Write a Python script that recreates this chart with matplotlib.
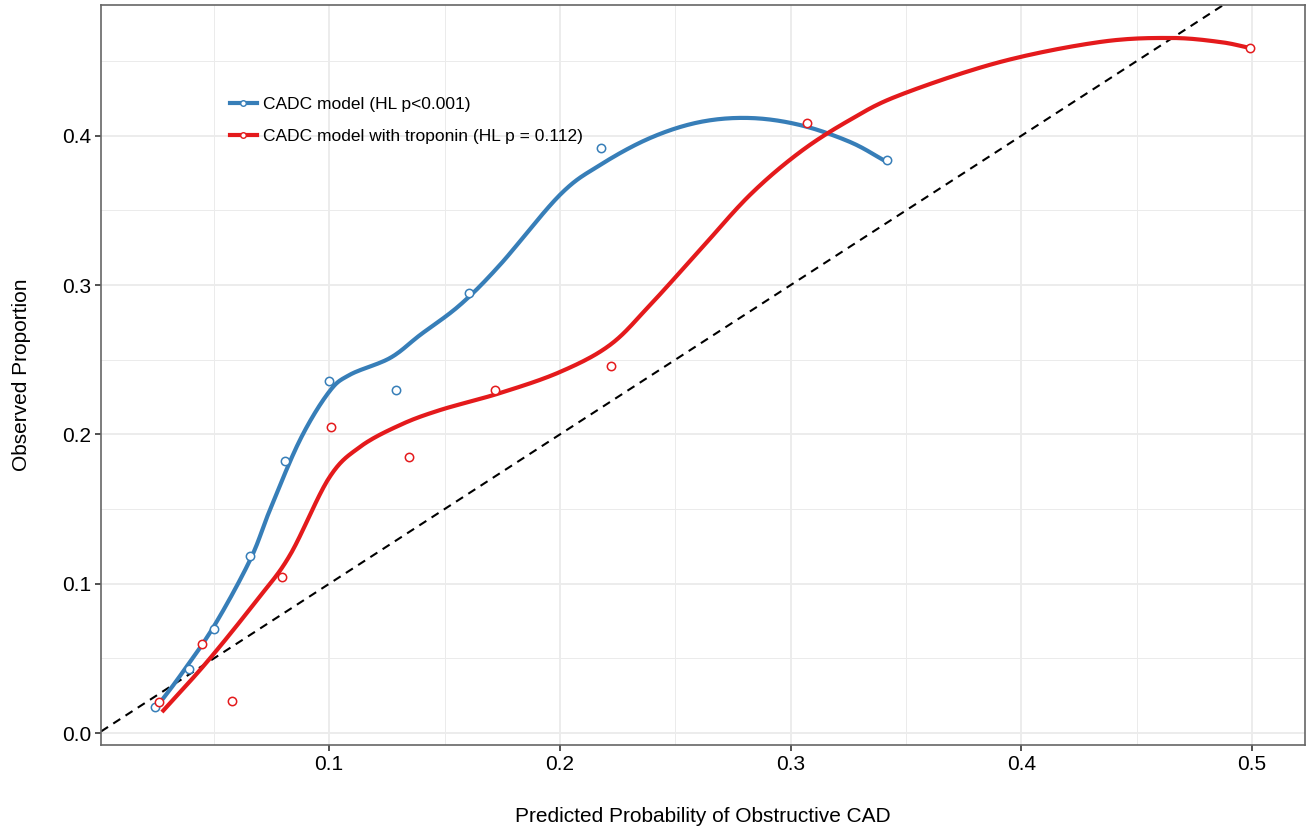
import matplotlib.pyplot as plt
import numpy as np
from matplotlib.ticker import MultipleLocator

plt.rcParams['font.family'] = ['Liberation Sans', 'DejaVu Sans']

BLUE = '#377EB8'
RED = '#E41A1C'

# observed points (decile groups)
blue_x = [0.0245, 0.0392, 0.050, 0.0657, 0.0808, 0.0999, 0.129, 0.1606, 0.2178, 0.3418]
blue_y = [0.0174, 0.0429, 0.070, 0.1186, 0.182, 0.2358, 0.2297, 0.2947, 0.3918, 0.3838]
red_x = [0.0262, 0.0449, 0.0579, 0.0795, 0.1008, 0.1346, 0.1719, 0.2222, 0.307, 0.4991]
red_y = [0.0208, 0.060, 0.0214, 0.1045, 0.205, 0.1849, 0.2297, 0.2458, 0.4086, 0.4588]

# smoothed calibration curves
blue_cx = [0.0245, 0.0353, 0.0501, 0.0657, 0.0743, 0.0873, 0.0999, 0.109, 0.1264, 0.1394,
           0.1567, 0.1740, 0.2000, 0.2174, 0.2391, 0.2607, 0.2824, 0.3041, 0.3257, 0.3418]
blue_cy = [0.0161, 0.0382, 0.0717, 0.1159, 0.1494, 0.1962, 0.2284, 0.240, 0.2512, 0.2666,
           0.2867, 0.3135, 0.3604, 0.3804, 0.3985, 0.4092, 0.4119, 0.4072, 0.3959, 0.3824]
red_cx = [0.0275, 0.0470, 0.0687, 0.0830, 0.0999, 0.1133, 0.1307, 0.1480, 0.1740, 0.2000,
          0.2217, 0.2391, 0.2607, 0.2824, 0.3041, 0.3257, 0.3474, 0.3908, 0.4341, 0.4645,
          0.4861, 0.4991]
red_cy = [0.0141, 0.0476, 0.0891, 0.1192, 0.1708, 0.1916, 0.2063, 0.2163, 0.2277, 0.2418,
          0.2599, 0.2867, 0.3235, 0.3604, 0.3891, 0.4106, 0.4273, 0.4494, 0.4628, 0.4655,
          0.4628, 0.4588]


def catmull_rom(xs, ys, n=20):
    # run a Catmull-Rom spline through the traced points
    p = np.column_stack([xs, ys])
    p = np.vstack([2 * p[0] - p[1], p, 2 * p[-1] - p[-2]])
    out = []
    t = np.linspace(0, 1, n, endpoint=False)[:, None]
    for i in range(1, len(p) - 2):
        p0, p1, p2, p3 = p[i - 1], p[i], p[i + 1], p[i + 2]
        seg = 0.5 * ((2 * p1) + (-p0 + p2) * t + (2 * p0 - 5 * p1 + 4 * p2 - p3) * t ** 2
                     + (-p0 + 3 * p1 - 3 * p2 + p3) * t ** 3)
        out.append(seg)
    out.append(p[-2][None, :])
    out = np.vstack(out)
    return out[:, 0], out[:, 1]


fig = plt.figure(figsize=(13.12, 8.26), dpi=100)
ax = fig.add_axes([0.077, 0.098, 0.9177, 0.896])

ax.axline((0, 0), slope=1, color='black', lw=1.5, ls=(0, (4, 3)), zorder=2)

bx, by = catmull_rom(blue_cx, blue_cy)
rx, ry = catmull_rom(red_cx, red_cy)
ax.plot(bx, by, color=BLUE, lw=3, zorder=3, solid_capstyle='butt')
ax.plot(rx, ry, color=RED, lw=3, zorder=3, solid_capstyle='butt')
ax.plot(blue_x, blue_y, 'o', mfc='white', mec=BLUE, ms=6, mew=1.1, zorder=4)
ax.plot(red_x, red_y, 'o', mfc='white', mec=RED, ms=6, mew=1.1, zorder=4)

# legend proxies
ax.plot([], [], color=BLUE, lw=3, marker='o', ms=4, mfc='white', mec=BLUE,
        label='CADC model (HL p<0.001)')
ax.plot([], [], color=RED, lw=3, marker='o', ms=4, mfc='white', mec=RED,
        label='CADC model with troponin (HL p = 0.112)')
ax.legend(loc='center left', bbox_to_anchor=(0.101, 0.844), frameon=False,
          borderaxespad=0, fontsize=12.5, handlelength=1.6, handletextpad=0.3,
          labelspacing=0.95)

ax.set_xlim(0.0011, 0.523)
ax.set_ylim(-0.008, 0.4876)
ax.xaxis.set_minor_locator(MultipleLocator(0.05))
ax.yaxis.set_minor_locator(MultipleLocator(0.05))
ax.set_xticks([0.1, 0.2, 0.3, 0.4, 0.5])
ax.set_xticklabels(['0.1', '0.2', '0.3', '0.4', '0.5'])
ax.set_yticks([0.0, 0.1, 0.2, 0.3, 0.4])
ax.set_yticklabels(['0.0', '0.1', '0.2', '0.3', '0.4'])

ax.grid(which='major', color='#EBEBEB', lw=1.3, zorder=0)
ax.grid(which='minor', color='#EBEBEB', lw=0.7, zorder=0)
ax.set_axisbelow(True)
ax.tick_params(which='minor', length=0)
ax.tick_params(which='major', length=4, width=1.2, color='#333333',
               labelsize=15, labelcolor='black', pad=3)
for s in ax.spines.values():
    s.set_color('#666666')
    s.set_linewidth(1.2)

ax.set_xlabel('Predicted Probability of Obstructive CAD', fontsize=15, labelpad=24)
ax.set_ylabel('Observed Proportion', fontsize=15, labelpad=22)

fig.savefig('out.png', dpi=100)
